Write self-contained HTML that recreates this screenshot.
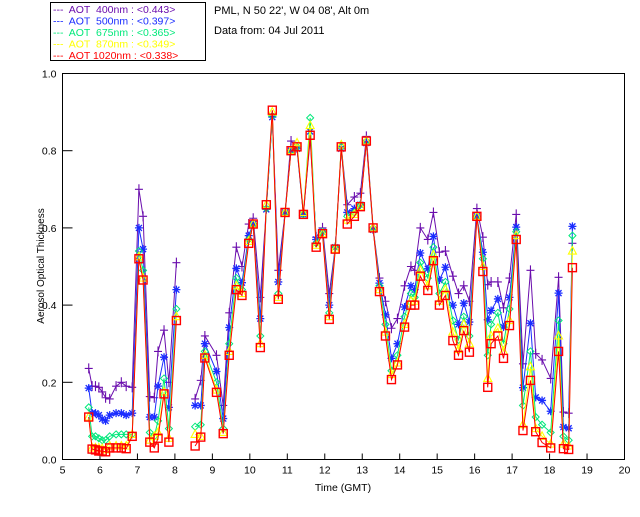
<!DOCTYPE html>
<html><head><meta charset="utf-8"><style>
body{margin:0;background:#fff;}
svg text{font-family:"Liberation Sans",sans-serif;}
</style></head><body>
<svg id="chart" width="640" height="512" viewBox="0 0 640 512" xmlns="http://www.w3.org/2000/svg">
<rect width="640" height="512" fill="#fff"/>
<g>
<rect x="50.5" y="2.5" width="155" height="58" fill="none" stroke="#000"/>
<text x="53" y="13" font-size="10.5" fill="#6a0dad" xml:space="preserve">---  AOT  400nm : &lt;0.443&gt;</text>
<text x="53" y="24.5" font-size="10.5" fill="#1a2cff" xml:space="preserve">---  AOT  500nm : &lt;0.397&gt;</text>
<text x="53" y="36" font-size="10.5" fill="#00e87a" xml:space="preserve">---  AOT  675nm : &lt;0.365&gt;</text>
<text x="53" y="47.5" font-size="10.5" fill="#ffff00" xml:space="preserve">---  AOT  870nm : &lt;0.349&gt;</text>
<text x="53" y="59" font-size="10.5" fill="#ff0000" xml:space="preserve">---  AOT 1020nm : &lt;0.338&gt;</text>
</g>
<text x="214" y="14" font-size="11" fill="#000">PML, N 50 22', W 04 08', Alt 0m</text>
<text x="214" y="34" font-size="11" fill="#000">Data from: 04 Jul 2011</text>
<rect x="62.5" y="73.5" width="562" height="386" fill="none" stroke="#000"/>
<text x="343" y="491" font-size="10.5" text-anchor="middle">Time (GMT)</text>
<text transform="translate(44,266) rotate(-90)" font-size="10" text-anchor="middle">Aerosol Optical Thickness</text>
<g id="axes"></g>
<g id="series"></g>
</svg>
<script>
const times = [5.70,5.79,5.88,5.97,6.06, 6.15,6.26,6.43,6.57,6.70, 6.86,7.04,7.15,7.33,7.45, 7.55,7.71,7.84,8.04, null,
8.54,8.69,8.80,9.11,9.29, 9.45,9.64,9.79,9.97,10.09, 10.28,10.44,10.60,10.76,10.94, 11.10,11.26,11.43,11.61,11.77,
11.94,12.12,12.28,12.44,12.60, 12.79,12.95,13.11,13.29,13.46, 13.62,13.78,13.94,14.13,14.30, 14.40,14.55,14.75,14.90,15.06,
15.22,15.42,15.57,15.71,15.86, 16.06,16.22,16.35,16.44,16.62, 16.77,16.93,17.11,17.29,17.49, 17.63,17.80,18.03,18.24,18.37,
18.51,18.61];
const aot400 = [.236,.19,.19,.187,.175, .16,.157,.19,.2,.19, .187,.70,.63,.163,.16, .28,.335,.2,.51, null,
.157,.205,.32,.27,.14, .38,.55,.50,.61,.625, .42,.65,.89,.49,.64, .825,.81,.64,.83,.576,
.60,.43,.55,.81,.66, .68,.69,.837,.60,.47, .41,.34,.365,.45,.50, .49,.60,.57,.64,.537,
.54,.475,.43,.45,.41, .65,.576,.453,.46,.46, .393,.47,.635,.248,.49, .274,.258,.21,.472,.123,
.12,.56];
const aot500 = [.185,.12,.12,.115,.105, .10,.115,.12,.12,.115, .12,.60,.545,.11,.11, .19,.265,.135,.44, null,
.14,.14,.30,.228,.106, .342,.495,.458,.58,.61, .365,.648,.887,.46,.64, .80,.805,.635,.85,.57,
.59,.40,.55,.805,.64, .65,.66,.82,.595,.457, .375,.262,.30,.395,.45, .44,.535,.494,.578,.465,
.498,.40,.35,.405,.356, .63,.537,.362,.386,.416, .343,.42,.602,.186,.353, .161,.153,.125,.431,.084,
.081,.604];
const aot675 = [.135,.06,.06,.055,.05, .05,.06,.065,.065,.065, .065,.54,.49,.07,.06, .10,.21,.08,.39, null,
.085,.09,.28,.20,.08, .30,.47,.44,.57,.61, .32,.65,.89,.43,.64, .80,.81,.635,.885,.56,
.59,.38,.55,.81,.63, .64,.66,.825,.60,.45, .35,.23,.27,.37,.43, .42,.51,.47,.55,.43,
.46,.36,.31,.37,.32, .63,.52,.27,.35,.38, .30,.39,.59,.14,.28, .11,.09,.07,.36,.06,
.05,.58];
const aot870 = [.11,.03,.03,.03,.028, .025,.035,.035,.035,.035, .065,.525,.47,.05,.06, .07,.175,.055,.37, null,
.065,.06,.27,.18,.07, .28,.45,.43,.565,.61, .30,.66,.90,.42,.64, .80,.82,.64,.865,.555,
.585,.37,.545,.815,.62, .635,.655,.825,.60,.44, .33,.22,.25,.35,.41, .41,.49,.45,.53,.41,
.44,.33,.285,.35,.30, .63,.50,.21,.32,.34, .28,.36,.58,.09,.24, .08,.06,.04,.32,.04,
.035,.54];
const aot1020 = [.11,.027,.025,.022,.022, .02,.03,.03,.03,.028, .06,.52,.465,.045,.03, .055,.17,.045,.36, null,
.035,.058,.263,.174,.067, .27,.44,.425,.56,.61, .29,.66,.905,.415,.64, .80,.81,.635,.84,.55,
.585,.363,.545,.81,.61, .63,.655,.825,.60,.435, .32,.207,.245,.343,.40, .40,.475,.438,.515,.40,
.425,.308,.27,.334,.278, .63,.487,.187,.30,.32, .262,.347,.57,.075,.205, .072,.044,.03,.28,.028,
.026,.497];
const xTicks = [5,6,7,8,9,10,11,12,13,14,15,16,17,18,19,20];
const yTicks = ["0.0","0.2","0.4","0.6","0.8","1.0"];

const NS='http://www.w3.org/2000/svg';
const X0=62.5,X1=624.5,Y0=459.5,Y1=73.5;
function xs(t){return X0+(t-5)/15*(X1-X0);}
function ys(v){return Y0-v*(Y0-Y1);}
function mk(tag,attrs,parent){const e=document.createElementNS(NS,tag);for(const k in attrs)e.setAttribute(k,attrs[k]);parent.appendChild(e);return e;}
const axes=document.getElementById('axes');
xTicks.forEach(t=>{
  const x=xs(t);
  const l=mk('line',{x1:x,x2:x,y1:Y0,y2:Y0-6,stroke:'#000'},axes);
  
  
  const tx=mk('text',{x:x,y:Y0+14,'font-size':10.5,'text-anchor':'middle'},axes);
  tx.textContent=t;
  
  
});
yTicks.forEach(s=>{
  const y=ys(parseFloat(s));
  const l=mk('line',{x1:X0,x2:X0+10,y1:y,y2:y,stroke:'#000'},axes);
  
  
  const tx=mk('text',{x:X0-6,y:y+4,'font-size':10.5,'text-anchor':'end'},axes);
  tx.textContent=s;
  
  
});
const sg=document.getElementById('series');
const series=[
 {vals:aot400,color:'#6a0dad',m:'plus',name:'aot-400nm'},
 {vals:aot500,color:'#1a2cff',m:'star',name:'aot-500nm'},
 {vals:aot675,color:'#00e87a',m:'diamond',name:'aot-675nm'},
 {vals:aot870,color:'#ffff00',m:'tri',name:'aot-870nm'},
 {vals:aot1020,color:'#ff0000',m:'square',name:'aot-1020nm'}];
series.forEach(s=>{
  const g=mk('g',{},sg);
  
  
  let d='',pen=false;
  times.forEach((t,i)=>{
    const v=s.vals[i];
    if(t===null||v===null){pen=false;return;}
    d+=(pen?'L':'M')+xs(t).toFixed(1)+' '+ys(v).toFixed(1);pen=true;
  });
  const p=mk('path',{d:d,fill:'none',stroke:s.color,'stroke-width':1},g);
  
  
  times.forEach((t,i)=>{
    const v=s.vals[i];
    if(t===null||v===null)return;
    const x=xs(t),y=ys(v);let e;
    if(s.m==='plus')e=mk('path',{d:`M${x-4} ${y}H${x+4}M${x} ${y-5}V${y+5}`,stroke:s.color,fill:'none','stroke-width':1.1},g);
    else if(s.m==='star')e=mk('path',{d:`M${x-4} ${y}H${x+4}M${x} ${y-4}V${y+4}M${x-3} ${y-3}L${x+3} ${y+3}M${x-3} ${y+3}L${x+3} ${y-3}`,stroke:s.color,fill:'none','stroke-width':1.3},g);
    else if(s.m==='diamond')e=mk('path',{d:`M${x} ${y-3.5}L${x+3.5} ${y}L${x} ${y+3.5}L${x-3.5} ${y}Z`,stroke:s.color,fill:'none','stroke-width':1},g);
    else if(s.m==='tri')e=mk('path',{d:`M${x} ${y-4.5}L${x+4} ${y+3}L${x-4} ${y+3}Z`,stroke:s.color,fill:'none','stroke-width':1.1},g);
    else e=mk('rect',{x:x-4,y:y-4,width:8,height:8,stroke:s.color,fill:'none','stroke-width':1.4},g);
    
    
  });
});
</script>
</body></html>
